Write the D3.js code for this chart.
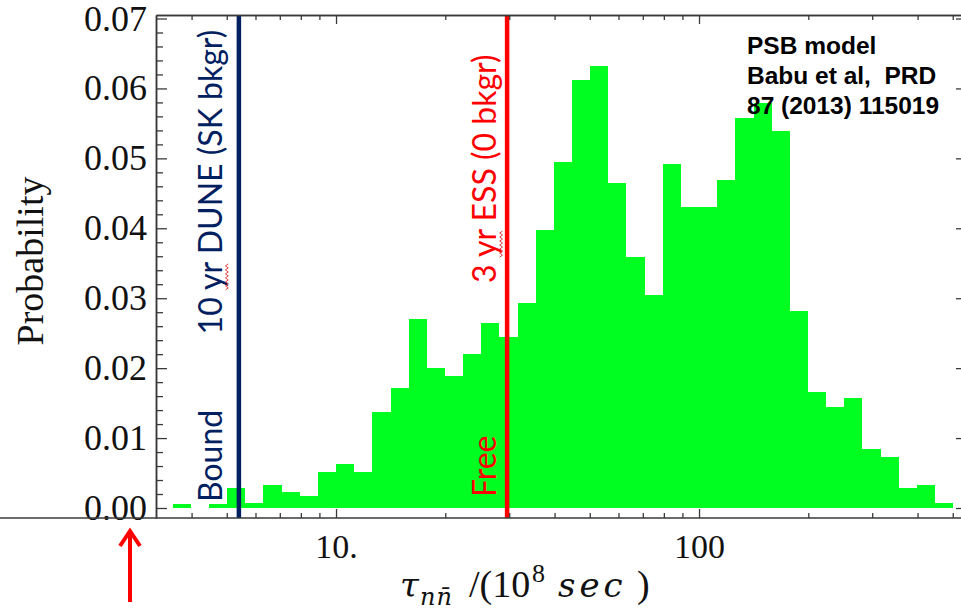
<!DOCTYPE html>
<html>
<head>
<meta charset="utf-8">
<script src="https://cdn.jsdelivr.net/npm/d3@7"></script>
<style>
  body { margin: 0; background: #fff; }
  svg { display: block; }
</style>
</head>
<body>
<div id="chart"></div>
<script>
// ── Data ────────────────────────────────────
// histogram bin edges, tau_nnbar in 1e8 s (0.05-decade bins)
const binEdges = [
  3.548, 3.981, 4.467, 5.012, 5.623, 6.310, 7.079, 7.943, 8.913, 10,
  11.22, 12.59, 14.13, 15.85, 17.78, 19.95, 22.39, 25.12, 28.18, 31.62,
  35.48, 39.81, 44.67, 50.12, 56.23, 63.10, 70.79, 79.43, 89.13, 100,
  112.2, 125.9, 141.3, 158.5, 177.8, 199.5, 223.9, 251.2, 281.8, 316.2,
  354.8, 398.1, 446.7, 501.2
];
const probability = [
  0.0006, 0.0000, 0.0006, 0.0029, 0.0007, 0.0033, 0.0023, 0.0017, 0.0052, 0.0063,
  0.0052, 0.0137, 0.0172, 0.0270, 0.0200, 0.0189, 0.0220, 0.0265, 0.0245, 0.0293,
  0.0398, 0.0495, 0.0612, 0.0632, 0.0465, 0.0359, 0.0305, 0.0492, 0.0431, 0.0431,
  0.0469, 0.0558, 0.0579, 0.0539, 0.0282, 0.0166, 0.0144, 0.0157, 0.0084, 0.0073,
  0.0029, 0.0033, 0.0007
];
const yMajorTicks = [0, 0.01, 0.02, 0.03, 0.04, 0.05, 0.06, 0.07];
const xMajorTicks = [10, 100];
const xTickLabels = ["10.", "100"];
const xMinorTicks = [4, 5, 6, 7, 8, 9, 20, 30, 40, 50, 60, 70, 80, 90, 200, 300, 400, 500];
const dune = { tau: 5.4, label: "10 yr DUNE (SK bkgr)", sub: "Bound" };
const ess  = { tau: 29.6, label: "3 yr ESS (0 bkgr)",   sub: "Free" };
const noteLines = ["PSB model", "Babu et al,  PRD", "87 (2013) 115019"];

// ── Style ───────────────────────────────────
const W = 961, H = 613;
const GREEN = "#00ff21", NAVY = "#002060", RED = "#ff0000";
const AXIS = "#3a3a3a", INK = "#111";
const SERIF = "'Liberation Serif','Times New Roman',serif";
const MATH  = "'DejaVu Serif',serif";
const SANS  = "Lato,'Open Sans',sans-serif";
const ARIAL = "'Liberation Sans',Arial,sans-serif";
const plot = { left: 156, right: 963, top: 15, bottom: 518 };

const svg = d3.select("#chart").append("svg").attr("width", W).attr("height", H);

const x = d3.scaleLog().domain([3.192, 533.6]).range([plot.left, plot.right]);
const y = d3.scaleLinear().domain([-0.00143, 0.0705]).range([plot.bottom, plot.top]);

// ── Bars ────────────────────────────────────
const bins = probability.map((p, i) => ({ lo: binEdges[i], hi: binEdges[i + 1], p }))
  .filter(d => d.p > 0);
svg.append("g").selectAll("rect").data(bins).join("rect")
  .attr("x", d => x(d.lo))
  .attr("width", d => x(d.hi) - x(d.lo))
  .attr("y", d => y(d.p))
  .attr("height", d => y(0) - y(d.p))
  .attr("fill", GREEN)
  .attr("shape-rendering", "crispEdges");

// ── Marker lines ────────────────────────────
function marker(m, color, dx) {
  const lx = x(m.tau);
  svg.append("line")
    .attr("x1", lx).attr("x2", lx)
    .attr("y1", plot.top + 1).attr("y2", plot.bottom)
    .attr("stroke", color).attr("stroke-width", 4.5);
  return lx + dx;
}

function vLabel(text, bx, by, anchor, color) {
  const g = svg.append("g").attr("transform", `translate(${bx},${by}) rotate(-90)`);
  const t = g.append("text")
    .attr("text-anchor", anchor)
    .attr("font-family", SANS).attr("font-size", 32)
    .attr("fill", color).text(text);
  // spell-check squiggle under "yr"
  const i = text.indexOf("yr");
  if (i >= 0) {
    const n = t.node();
    const a = n.getStartPositionOfChar(i).x, b = n.getEndPositionOfChar(i + 1).x;
    const pts = [];
    for (let k = 0, px = a; px <= b; k++, px += 2) pts.push([px, 5 + (k % 2 ? 1.4 : -1.4)]);
    g.append("path").attr("d", d3.line()(pts))
      .attr("fill", "none").attr("stroke", "#e23b3b").attr("stroke-width", 1);
  }
}

const bxDune = marker(dune, NAVY, -17);
vLabel(dune.label, bxDune, 182, "middle", NAVY);
vLabel(dune.sub, bxDune, 502, "start", NAVY);

const bxEss = marker(ess, RED, -11);
vLabel(ess.label, bxEss, 283, "start", RED);
vLabel(ess.sub, bxEss, 497, "start", RED);

// ── Axes / frame ────────────────────────────
function styleAxis(g, fs) {
  g.select(".domain").attr("stroke", AXIS).attr("stroke-width", 1.5);
  g.selectAll(".tick line").attr("stroke", AXIS).attr("stroke-width", 1.3);
  g.selectAll(".tick text").attr("font-family", SERIF).attr("font-size", fs).attr("fill", INK);
}
const yMinor = y.ticks(35).filter(v => Math.abs(v * 100 - Math.round(v * 100)) > 1e-6);

// left
svg.append("g").attr("transform", `translate(${plot.left},0)`)
  .call(d3.axisLeft(y).tickValues(yMinor).tickSize(-7).tickSizeOuter(0).tickFormat(""))
  .call(g => styleAxis(g, 0));
svg.append("g").attr("transform", `translate(${plot.left},0)`)
  .call(d3.axisLeft(y).tickValues(yMajorTicks).tickSize(-11).tickSizeOuter(0)
    .tickPadding(9).tickFormat(d3.format(".2f")))
  .call(g => styleAxis(g, 36));

// right
svg.append("g").attr("transform", `translate(${plot.right},0)`)
  .call(d3.axisRight(y).tickValues(yMajorTicks).tickSize(-7).tickSizeOuter(0).tickFormat(""))
  .call(g => styleAxis(g, 0));

// top
svg.append("g").attr("transform", `translate(0,${plot.top})`)
  .call(d3.axisTop(x).tickValues(xMinorTicks).tickSize(-5).tickSizeOuter(0).tickFormat(""))
  .call(g => styleAxis(g, 0));
svg.append("g").attr("transform", `translate(0,${plot.top})`)
  .call(d3.axisTop(x).tickValues(xMajorTicks).tickSize(-9).tickSizeOuter(0).tickFormat(""))
  .call(g => styleAxis(g, 0));

// bottom
svg.append("g").attr("transform", `translate(0,${plot.bottom})`)
  .call(d3.axisBottom(x).tickValues(xMinorTicks).tickSize(-5).tickSizeOuter(0).tickFormat(""))
  .call(g => { styleAxis(g, 0); g.select(".domain").remove(); });
svg.append("g").attr("transform", `translate(0,${plot.bottom})`)
  .call(d3.axisBottom(x).tickValues(xMajorTicks).tickSize(-9).tickSizeOuter(0)
    .tickPadding(16).tickFormat((d, i) => xTickLabels[i]))
  .call(g => { styleAxis(g, 34); g.select(".domain").remove(); });
svg.append("line")
  .attr("x1", 0).attr("x2", W).attr("y1", plot.bottom).attr("y2", plot.bottom)
  .attr("stroke", AXIS).attr("stroke-width", 1.5);

// ── Axis titles ─────────────────────────────
svg.append("text")
  .attr("transform", "translate(43,261) rotate(-90)")
  .attr("text-anchor", "middle")
  .attr("font-family", SERIF).attr("font-size", 38).attr("fill", INK)
  .text("Probability");

// math-style label: tau_{n nbar} /(10^8 sec)
const xl = svg.append("text")
  .attr("y", 597)
  .attr("font-family", SERIF).attr("font-size", 38).attr("fill", INK);
xl.append("tspan").attr("x", 400).attr("font-family", MATH).attr("font-style", "italic")
  .attr("font-size", 34).text("τ");
xl.append("tspan").attr("x", 420).attr("dy", 8).attr("font-family", MATH)
  .attr("font-style", "italic").attr("font-size", 24).attr("letter-spacing", 1).text("nn\u0304");
xl.append("tspan").attr("x", 469).attr("dy", -8).text("/(10");
xl.append("tspan").attr("x", 532).attr("dy", -15).attr("font-size", 26).text("8");
xl.append("tspan").attr("x", 558).attr("dy", 15).attr("font-family", MATH)
  .attr("font-style", "italic").attr("font-size", 34).attr("letter-spacing", 4).text("sec");
xl.append("tspan").attr("x", 637).text(")");

// ── Note ────────────────────────────────────
svg.append("g").selectAll("text").data(noteLines).join("text")
  .attr("x", 747).attr("y", (d, i) => 54 + i * 30)
  .attr("font-family", ARIAL).attr("font-weight", "bold").attr("font-size", 24.5)
  .attr("fill", "#000").style("white-space", "pre")
  .text(d => d);

// ── Arrow ───────────────────────────────────
const arrow = svg.append("g").attr("stroke", RED).attr("stroke-width", 4).attr("fill", "none");
arrow.append("line").attr("x1", 130).attr("x2", 130).attr("y1", 602).attr("y2", 532);
arrow.append("path").attr("d", "M120,546 L130,531 L140,546");
</script>
</body>
</html>
